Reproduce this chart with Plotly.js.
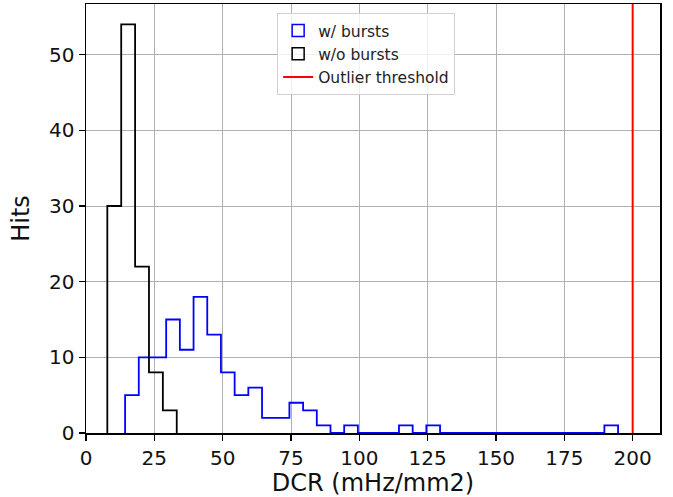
<!DOCTYPE html>
<html><head><meta charset="utf-8">
<script src="https://cdn.plot.ly/plotly-3.0.1.min.js"></script>
<style>html,body{margin:0;padding:0;background:#fff;}</style>
</head><body><div id="chart" style="width:673px;height:497px;"></div>
<script>
// ---- data ----
const burstBinStart = 14.3;
const burstBinWidth = 5.01;
const burstCounts = [5,10,10,15,11,18,13,8,5,6,2,2,4,3,1,0,1,0,0,0,1,0,1,0,0,0,0,0,0,0,0,0,0,0,0,1];
const noBurstBinStart = 7.8;
const noBurstBinWidth = 5.08;
const noBurstCounts = [30,54,22,8,3];
const outlierThreshold = 200;
const seriesNames = ['w/ bursts', 'w/o bursts', 'Outlier threshold'];
const xTicks = [0,25,50,75,100,125,150,175,200];
const yTicks = [0,10,20,30,40,50];
const xLabel = 'DCR (mHz/mm2)';
const yLabel = 'Hits';

// step-outline of a histogram from bin start, width and counts
function stepXY(start, width, counts) {
  const x = [start], y = [0];
  counts.forEach((c, i) => { x.push(start + i * width); y.push(c); });
  const end = start + counts.length * width;
  x.push(end); y.push(counts[counts.length - 1]);
  x.push(end); y.push(0);
  return {x, y};
}
const yTop = Math.max(...burstCounts, ...noBurstCounts) * 1.05;
const sBurst = stepXY(burstBinStart, burstBinWidth, burstCounts);
const sNo = stepXY(noBurstBinStart, noBurstBinWidth, noBurstCounts);
const FONT = 'DejaVu Sans, sans-serif';

const traces = [
  {type:'scatter', mode:'lines', x:sBurst.x, y:sBurst.y, line:{shape:'hv', color:'#0000ff', width:1.8}, showlegend:false, hoverinfo:'skip'},
  {type:'scatter', mode:'lines', x:sNo.x, y:sNo.y, line:{shape:'hv', color:'#000000', width:1.8}, showlegend:false, hoverinfo:'skip'},
  {type:'bar', x:[null], y:[null], name:seriesNames[0], marker:{color:'rgba(255,255,255,0)', line:{color:'#0000ff', width:1.5}}},
  {type:'bar', x:[null], y:[null], name:seriesNames[1], marker:{color:'rgba(255,255,255,0)', line:{color:'#000000', width:1.5}}},
  {type:'scatter', mode:'lines', x:[outlierThreshold, outlierThreshold], y:[0, yTop], name:seriesNames[2], line:{color:'#ff0000', width:2}, hoverinfo:'skip'}
];

const axisCommon = {
  ticks:'outside', ticklen:6, tickwidth:1.2, tickcolor:'#000',
  showline:true, linecolor:'#000', linewidth:1.5, mirror:true,
  showgrid:true, gridcolor:'#b0b0b0', gridwidth:1, zeroline:false,
  tickfont:{family:FONT, size:20, color:'#111'}
};

const layout = {
  width:673, height:497,
  margin:{l:86, r:13, t:4, b:64},
  paper_bgcolor:'#fff', plot_bgcolor:'#fff',
  font:{family:FONT, color:'#000'},
  showlegend:true,
  legend:{x:0.333, y:0.979, xanchor:'left', yanchor:'top',
          bgcolor:'rgba(255,255,255,0.8)', bordercolor:'#d0d0d0', borderwidth:1,
          font:{family:FONT, size:15.5, color:'#222'}, tracegroupgap:0},
  xaxis:Object.assign({}, axisCommon, {range:[0, 210], tickvals:xTicks, ticktext:xTicks.map(String),
          title:{text:xLabel, font:{family:FONT, size:24, color:'#111'}}}),
  yaxis:Object.assign({}, axisCommon, {range:[0, yTop], tickvals:yTicks, ticktext:yTicks.map(String),
          title:{text:yLabel, standoff:12, font:{family:FONT, size:24, color:'#111'}}}),
  bargap:0
};

Plotly.newPlot('chart', traces, layout, {staticPlot:true, displayModeBar:false});
</script>
</body></html>
